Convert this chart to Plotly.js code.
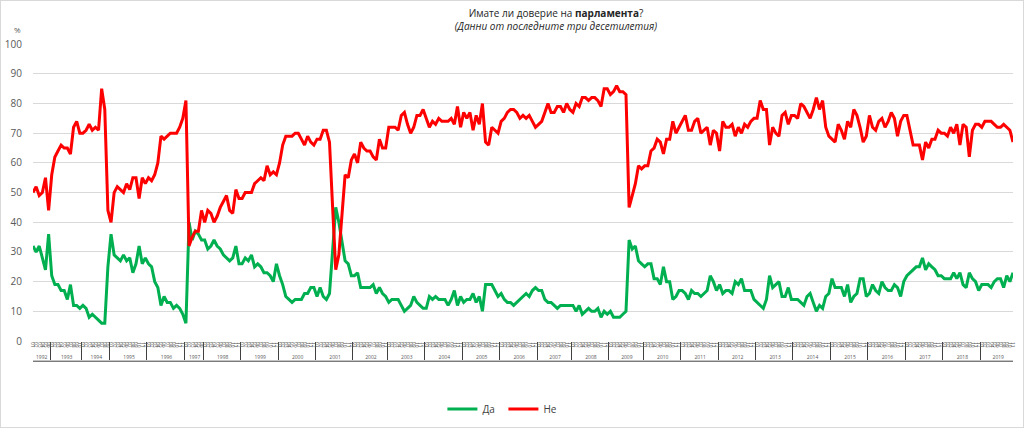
<!DOCTYPE html>
<html>
<head>
<meta charset="utf-8">
<script src="https://cdn.plot.ly/plotly-3.0.1.min.js"></script>
<style>
  html, body { margin: 0; padding: 0; background: #fff; }
  #chart { width: 1022px; height: 426px; border: 1px solid #d9d9d9; }
</style>
</head>
<body>
<div id="chart"></div>
<script>
// survey waves grouped by year (outer category), one value per wave
const years = [1992, 1993, 1994, 1995, 1996, 1997, 1998, 1999, 2000, 2001, 2002, 2003, 2004, 2005,
               2006, 2007, 2008, 2009, 2010, 2011, 2012, 2013, 2014, 2015, 2016, 2017, 2018, 2019];
const pointsPerYear = [6, 10, 9, 12, 12, 6, 12, 12, 12, 12, 11, 12, 12, 12,
                       12, 11, 12, 11, 12, 12, 12, 12, 12, 12, 12, 12, 12, 11];

// "Да" (yes), %
const yesValues = [
  32, 30, 32, 28, 24, 36,                          // 1992
  22, 19, 19, 17, 17, 14, 19, 12, 12, 11,          // 1993
  12, 11, 8, 9, 8, 7, 6, 6, 25,                    // 1994
  36, 29, 28, 27, 29, 27, 28, 23, 26, 32, 26, 28,  // 1995
  26, 25, 20, 18, 12, 15, 13, 13, 11, 12, 11, 9,   // 1996
  6, 40, 34, 37, 36, 34,                           // 1997
  34, 31, 32, 34, 32, 31, 29, 28, 27, 28, 32, 26,  // 1998
  26, 28, 27, 29, 25, 26, 25, 23, 23, 22, 20, 26,  // 1999
  22, 19, 15, 14, 13, 14, 14, 14, 16, 16, 18, 18,  // 2000
  15, 18, 15, 14, 16, 30, 45, 40, 34, 27, 26, 22,  // 2001
  22, 23, 18, 18, 18, 18, 19, 16, 18, 16, 15,      // 2002
  13, 14, 14, 14, 12, 10, 11, 12, 15, 13, 12, 11,  // 2003
  11, 15, 14, 15, 14, 14, 14, 12, 14, 17, 12, 15,  // 2004
  13, 14, 14, 16, 13, 15, 10, 19, 19, 19, 17, 15,  // 2005
  16, 14, 13, 13, 12, 13, 14, 15, 16, 15, 17, 18,  // 2006
  17, 17, 14, 13, 13, 12, 11, 12, 12, 12, 12,      // 2007
  12, 10, 12, 9, 10, 11, 10, 10, 11, 8, 10, 9,     // 2008
  10, 8, 8, 8, 9, 10, 34, 31, 32, 27, 26,          // 2009
  25, 26, 26, 21, 21, 19, 25, 20, 20, 14, 15, 17,  // 2010
  17, 16, 14, 17, 16, 16, 15, 16, 17, 22, 20, 17,  // 2011
  19, 16, 17, 17, 16, 20, 19, 21, 17, 17, 17, 14,  // 2012
  13, 12, 11, 14, 22, 18, 19, 20, 15, 15, 18, 14,  // 2013
  14, 14, 13, 12, 15, 16, 13, 10, 12, 11, 15, 16,  // 2014
  21, 18, 18, 18, 15, 19, 13, 15, 16, 21, 21, 15,  // 2015
  16, 19, 17, 16, 20, 18, 17, 17, 19, 18, 15, 20,  // 2016
  22, 23, 24, 25, 25, 28, 24, 26, 25, 24, 22, 22,  // 2017
  21, 21, 21, 23, 21, 23, 19, 18, 23, 21, 20, 17,  // 2018
  19, 19, 19, 18, 20, 21, 21, 18, 22, 20, 23       // 2019
];

// "Не" (no), %
const noValues = [
  50, 52, 49, 50, 55, 44,                          // 1992
  56, 62, 64, 66, 65, 65, 63, 72, 74, 70,          // 1993
  70, 71, 73, 71, 72, 71, 85, 78, 44,              // 1994
  40, 50, 52, 51, 50, 53, 51, 55, 55, 48, 55, 53,  // 1995
  55, 54, 56, 60, 69, 68, 69, 70, 70, 70, 72, 75,  // 1996
  81, 32, 35, 37, 37, 44,                          // 1997
  40, 44, 43, 40, 42, 45, 47, 49, 44, 43, 51, 48,  // 1998
  48, 50, 50, 50, 53, 54, 55, 54, 59, 56, 57, 56,  // 1999
  60, 66, 69, 69, 69, 70, 70, 68, 66, 69, 67, 66,  // 2000
  68, 68, 71, 71, 67, 45, 24, 29, 42, 56, 55, 61,  // 2001
  63, 60, 67, 65, 64, 64, 62, 61, 68, 65, 65,      // 2002
  72, 72, 72, 71, 76, 77, 73, 70, 72, 76, 76, 78,  // 2003
  75, 72, 74, 73, 75, 74, 74, 74, 75, 73, 79, 72,  // 2004
  77, 75, 77, 71, 76, 73, 80, 67, 66, 72, 71, 70,  // 2005
  74, 75, 77, 78, 78, 77, 75, 76, 75, 76, 74, 72,  // 2006
  73, 74, 77, 80, 77, 77, 79, 79, 77, 80, 78,      // 2007
  77, 80, 79, 82, 82, 81, 82, 82, 81, 79, 85, 85,  // 2008
  83, 84, 86, 84, 84, 83, 45, 49, 53, 59, 58,      // 2009
  59, 59, 64, 65, 68, 67, 63, 68, 68, 74, 70, 72,  // 2010
  74, 76, 71, 71, 74, 75, 70, 71, 72, 66, 71, 70,  // 2011
  64, 74, 72, 72, 73, 69, 72, 70, 73, 72, 74, 75,  // 2012
  75, 81, 78, 78, 66, 72, 70, 69, 76, 77, 73, 76,  // 2013
  76, 75, 80, 79, 77, 75, 78, 82, 78, 81, 72, 69,  // 2014
  68, 67, 73, 71, 68, 74, 72, 78, 76, 72, 67, 69,  // 2015
  76, 72, 71, 74, 75, 72, 74, 77, 75, 69, 74, 76,  // 2016
  76, 71, 66, 66, 66, 61, 67, 65, 68, 68, 71, 70,  // 2017
  70, 69, 72, 70, 73, 66, 73, 72, 62, 71, 73, 73,  // 2018
  72, 74, 74, 74, 73, 72, 72, 73, 72, 71, 67       // 2019
];

const yearLabels = years.map(String);

// two-level categories: year / wave number inside the year
const outer = [];
const inner = [];
yearLabels.forEach((label, k) => {
  for (let m = 1; m <= pointsPerYear[k]; m++) {
    outer.push(label);
    inner.push(String(m).padStart(2, '0'));
  }
});
if (outer.length !== yesValues.length || outer.length !== noValues.length) {
  console.warn('length mismatch', outer.length, yesValues.length, noValues.length);
}

const font = '"Open Sans", "Liberation Sans", sans-serif';

const traces = [
  {
    type: 'scatter', mode: 'lines', name: 'Да',
    x: [outer, inner], y: yesValues,
    line: { color: '#00b050', width: 3 }
  },
  {
    type: 'scatter', mode: 'lines', name: 'Не',
    x: [outer, inner], y: noValues,
    line: { color: '#ff0000', width: 3 }
  }
];

const layout = {
  width: 1022,
  height: 426,
  margin: { l: 32, r: 10, t: 43, b: 86 },
  paper_bgcolor: '#fff',
  plot_bgcolor: '#fff',
  font: { family: font, size: 10, color: '#404040' },
  title: {
    text: 'Имате ли доверие на <b>парламента</b>?<br><i>(Данни от последните три десетилетия)</i>',
    font: { family: font, size: 10, color: '#262626' },
    x: 0.543, xref: 'container', xanchor: 'center',
    y: 0.963, yref: 'container', yanchor: 'top'
  },
  showlegend: true,
  legend: {
    orientation: 'h', x: 0.48, xanchor: 'center',
    yref: 'container', y: 0.042, yanchor: 'middle',
    font: { family: font, size: 10, color: '#404040' },
    itemwidth: 30, entrywidth: 16, entrywidthmode: 'pixels'
  },
  xaxis: {
    type: 'multicategory',
    automargin: false,
    showgrid: false, zeroline: false, showline: false,
    ticks: '',
    tickmode: 'linear', dtick: 1,
    tickangle: 90,
    tickfont: { family: font, size: 5, color: '#595959' },
    showdividers: true, dividercolor: '#404040', dividerwidth: 1
  },
  yaxis: {
    range: [0, 100.05], dtick: 10,
    automargin: false,
    gridcolor: '#d9d9d9', gridwidth: 1,
    zeroline: false, showline: false, ticks: '',
    ticklabelstandoff: 10,
    tickfont: { family: font, size: 10, color: '#595959' }
  },
  annotations: [
    {
      text: '%', xref: 'paper', yref: 'paper', x: -0.021, y: 1.074,
      showarrow: false, font: { family: font, size: 8, color: '#595959' }
    }
  ],
  shapes: [
    {
      type: 'line', xref: 'paper', yref: 'paper', x0: 0, x1: 1, y0: -0.068, y1: -0.068,
      line: { color: '#404040', width: 1 }
    }
  ]
};

Plotly.newPlot('chart', traces, layout, { displayModeBar: false, responsive: false });
</script>
</body>
</html>
